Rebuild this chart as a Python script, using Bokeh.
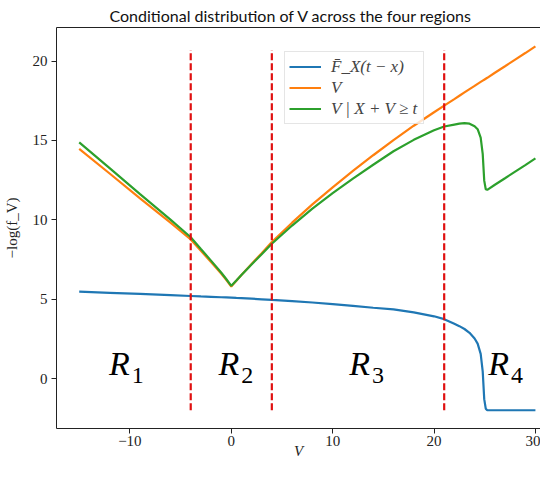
from bokeh.plotting import figure
from bokeh.models import Legend, LegendItem, LinearAxis, FixedTicker, Range1d
from bokeh.core.properties import value
from bokeh.embed import file_html
from bokeh.resources import INLINE

# ---- data ----
v = [-15, -12, -9, -6, -4, -3, -2, -1, -0.5, 0,
     0.5, 1, 2, 3, 4, 6, 8, 10, 12, 14,
     16, 18, 20, 21, 22, 22.5, 23, 23.5, 24, 24.3,
     24.6, 24.8, 24.95, 25.1, 25.25, 26, 27, 28, 29, 30]

fbar_x = [5.47, 5.40, 5.33, 5.25, 5.20, 5.17, 5.15, 5.12, 5.11, 5.10,
          5.08, 5.07, 5.03, 4.99, 4.95, 4.88, 4.79, 4.69, 4.58, 4.46,
          4.36, 4.17, 3.92, 3.74, 3.45, 3.30, 3.12, 2.88, 2.52, 2.20,
          1.55, 0.45, -1.30, -1.90, -2.00, -2.00, -2.00, -2.00, -2.00, -2.00]

neglog_v = [14.47, 12.92, 11.35, 9.82, 8.76, 8.05, 7.34, 6.62, 6.22, 5.80,
            6.16, 6.52, 7.22, 7.90, 8.60, 9.82, 10.97, 12.05, 13.08, 14.07,
            15.02, 15.93, 16.78, 17.20, 17.61, 17.82, 18.03, 18.24, 18.44, 18.57,
            18.69, 18.77, 18.83, 18.89, 18.95, 19.27, 19.68, 20.10, 20.51, 20.93]

neglog_cond = [14.88, 13.26, 11.62, 10.01, 8.90, 8.16, 7.43, 6.68, 6.27, 5.84,
               6.18, 6.53, 7.19, 7.83, 8.49, 9.64, 10.70, 11.68, 12.60, 13.47,
               14.32, 15.04, 15.64, 15.88, 16.00, 16.06, 16.09, 16.06, 15.90, 15.71,
               15.18, 14.16, 12.47, 11.93, 11.89, 12.21, 12.62, 13.04, 13.45, 13.87]

boundaries = [-4, 4, 21]
boundary_low = -2
boundary_high = 20.7

region_letter = ["R", "R", "R", "R"]
region_index = ["1", "2", "3", "4"]
region_x = [-10.6, 0.2, 13.1, 26.8]
region_y = [0.93, 0.93, 0.93, 0.93]

x_ticks = [-10, 0, 10, 20, 30]
x_tick_labels = ["\u221210", "0", "10", "20", "30"]
y_ticks = [0, 5, 10, 15, 20]
y_tick_labels = ["0", "5", "10", "15", "20"]

legend_labels = ["F\u0304_X(t \u2212 x)", "V", "V | X + V \u2265 t"]
colors = ["#1f77b4", "#ff7f0e", "#2ca02c"]

SERIF = "Liberation Serif"
INK = "#222222"

p = figure(width=540, height=461, output_backend="svg", toolbar_location=None,
           x_range=Range1d(-17.24, 30.5), y_range=Range1d(-3.15, 22.12),
           min_border_left=53, min_border_right=0, min_border_top=25,
           min_border_bottom=20)

p.title.text = "Conditional distribution of V across the four regions"
p.title.text_font = "Lato"
p.title.text_font_style = "normal"
p.title.text_font_size = "16px"
p.title.text_color = "#111111"
p.title.align = "left"
p.title.offset = 53
p.title.standoff = 6

p.outline_line_color = None
p.xgrid.visible = False
p.ygrid.visible = False
p.background_fill_color = "white"
p.border_fill_color = "white"

for ax in (p.xaxis[0], p.yaxis[0]):
    ax.major_tick_in = 0
    ax.major_tick_out = 5
    ax.minor_tick_in = 0
    ax.minor_tick_out = 0
    ax.major_label_text_font = SERIF
    ax.major_label_text_font_size = "15px"
    ax.major_label_text_color = INK
    ax.axis_line_color = INK
    ax.major_tick_line_color = INK
    ax.axis_label_text_font = SERIF
    ax.axis_label_text_font_size = "15px"
    ax.axis_label_text_color = INK

p.xaxis.ticker = FixedTicker(ticks=x_ticks)
p.xaxis.major_label_overrides = dict(zip(x_ticks, x_tick_labels))
p.yaxis.ticker = FixedTicker(ticks=y_ticks)
p.yaxis.major_label_overrides = dict(zip(y_ticks, y_tick_labels))
p.xaxis.major_label_standoff = 2
p.yaxis.major_label_standoff = 4
p.xaxis.axis_label = "V"
p.xaxis.axis_label_text_font_style = "italic"
p.xaxis.axis_label_standoff = -6
p.yaxis.axis_label = "\u2212log(f_V)"
p.yaxis.axis_label_text_font_style = "normal"
p.yaxis.axis_label_standoff = 10

top = LinearAxis(ticker=FixedTicker(ticks=[]), major_label_text_font_size="0px",
                 major_tick_in=0, major_tick_out=0, minor_tick_in=0, minor_tick_out=0,
                 major_tick_line_color=None, minor_tick_line_color=None,
                 axis_line_color=INK, major_label_standoff=0)
p.add_layout(top, "above")

r_blue = p.line(v, fbar_x, line_color=colors[0], line_width=2.2)
r_orange = p.line(v, neglog_v, line_color=colors[1], line_width=2.2)
r_green = p.line(v, neglog_cond, line_color=colors[2], line_width=2.2)

p.segment(x0=boundaries, y0=[boundary_low] * len(boundaries),
          x1=boundaries, y1=[boundary_high] * len(boundaries),
          line_color="#e01010", line_width=2.2, line_dash="7 3")

p.text(x=region_x, y=region_y, text=region_letter, text_font=value(SERIF),
       text_font_style="italic", text_font_size="34px", text_align="right",
       text_baseline="middle", x_offset=6, text_color="black")
p.text(x=region_x, y=region_y, text=region_index, text_font=value(SERIF),
       text_font_size="24px", text_align="left", text_baseline="middle",
       x_offset=8, y_offset=12, text_color="black")

legend = Legend(items=[LegendItem(label=legend_labels[0], renderers=[r_blue]),
                       LegendItem(label=legend_labels[1], renderers=[r_orange]),
                       LegendItem(label=legend_labels[2], renderers=[r_green])],
                location=(228, 304))
legend.label_text_font = SERIF
legend.label_text_font_style = "italic"
legend.label_text_font_size = "17px"
legend.glyph_width = 32
legend.glyph_height = 21
legend.label_height = 21
legend.label_width = 88
legend.spacing = 0
legend.padding = 4
legend.margin = 0
legend.label_standoff = 10
legend.border_line_color = "#cccccc"
legend.border_line_width = 1
legend.background_fill_alpha = 0.8
p.add_layout(legend)

open("out.html", "w").write(file_html(p, INLINE))
